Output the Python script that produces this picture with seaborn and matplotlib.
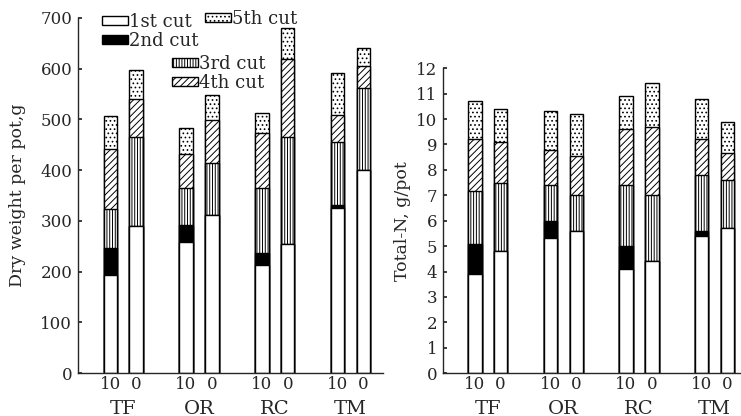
import numpy as np
import pandas as pd
import matplotlib
matplotlib.use('Agg')
from matplotlib import pyplot as plt
from matplotlib.patches import Patch
import seaborn as sns

groups = ['TF', 'OR', 'RC', 'TM']
rates = ['10', '0']
cuts = ['1st cut', '2nd cut', '3rd cut', '4th cut', '5th cut']

# amount per cut, bar order: TF10 TF0 OR10 OR0 RC10 RC0 TM10 TM0
dw_1st = [193, 290, 259, 312, 213, 254, 325, 400]
dw_2nd = [53, 0, 33, 0, 24, 0, 6, 0]
dw_3rd = [77, 176, 72, 102, 127, 211, 124, 161]
dw_4th = [118, 74, 67, 84, 109, 154, 54, 44]
dw_5th = [65, 58, 52, 50, 39, 61, 83, 35]

n_1st = [3.9, 4.8, 5.3, 5.6, 4.1, 4.4, 5.4, 5.7]
n_2nd = [1.2, 0, 0.7, 0, 0.9, 0, 0.2, 0]
n_3rd = [2.05, 2.7, 1.4, 1.4, 2.4, 2.6, 2.2, 1.9]
n_4th = [2.05, 1.6, 1.4, 1.55, 2.2, 2.7, 1.4, 1.05]
n_5th = [1.5, 1.3, 1.5, 1.65, 1.3, 1.7, 1.6, 1.25]

sns.set_theme(style='ticks')
plt.rcParams['font.family'] = ['DejaVu Serif']
plt.rcParams['hatch.linewidth'] = 0.7

# face colour and hatch for each cut
looks = [('white', ''), ('black', ''), ('white', '||||||'), ('white', '/////'), ('white', '....')]


def stacked(ax, parts):
    df = pd.DataFrame({'group': np.repeat(groups, 2), 'rate': rates * 4})
    cum = np.cumsum(np.array(parts, dtype=float), axis=0)
    # draw from the full stack down, each layer covers the one below
    for k in reversed(range(len(parts))):
        df['top'] = cum[k]
        face, hatch = looks[k]
        sns.barplot(data=df, x='group', y='top', hue='rate', order=groups,
                    hue_order=rates, palette=[face, face], saturation=1,
                    width=0.684, gap=0.48, edgecolor='black', linewidth=1,
                    hatch=hatch, errorbar=None, legend=False, ax=ax)
    pos = [g + d for g in range(len(groups)) for d in (-0.171, 0.171)]
    ax.set_xticks(pos, rates * len(groups), fontsize=12)
    ax.set_xticks(range(len(groups)), groups, minor=True, fontsize=14)
    ax.tick_params(axis='x', which='major', length=0, pad=2)
    ax.tick_params(axis='x', which='minor', length=0, pad=19)
    ax.tick_params(axis='y', direction='in', length=3, labelsize=12, pad=4)
    ax.set_xlabel('')
    sns.despine(ax=ax)
    for s in ax.spines.values():
        s.set_linewidth(1)


fig = plt.figure(figsize=(7.41, 4.16), dpi=100)
ax1 = fig.add_axes([0.105, 0.103, 0.412, 0.854])
ax2 = fig.add_axes([0.598, 0.103, 0.400, 0.733])

stacked(ax1, [dw_1st, dw_2nd, dw_3rd, dw_4th, dw_5th])
ax1.set_ylim(0, 700)
ax1.set_yticks(range(0, 701, 100))
ax1.set_xlim(-0.6, 3.43)
ax1.set_ylabel('Dry weight per pot,g', fontsize=12.5, labelpad=10)

stacked(ax2, [n_1st, n_2nd, n_3rd, n_4th, n_5th])
ax2.set_ylim(0, 12)
ax2.set_yticks(range(0, 13))
ax2.set_xlim(-0.59, 3.33)
ax2.set_ylabel('Total-N, g/pot', fontsize=12.5, labelpad=4)

handles = [Patch(facecolor=f, edgecolor='black', hatch=h, label=c)
           for (f, h), c in zip(looks, cuts)]
leg_kw = dict(frameon=False, fontsize=13, borderpad=0, borderaxespad=0,
              handlelength=1.45, handleheight=0.4, handletextpad=0.05,
              labelspacing=0.08, loc='center left')
leg1 = ax1.legend(handles=handles[:2], bbox_to_anchor=(0.079, 0.962), **leg_kw)
ax1.add_artist(leg1)
leg2 = ax1.legend(handles=handles[4:], bbox_to_anchor=(0.416, 0.998), **leg_kw)
ax1.add_artist(leg2)
ax1.legend(handles=handles[2:4], bbox_to_anchor=(0.308, 0.843), **leg_kw)

fig.savefig('out.png', dpi=100)
